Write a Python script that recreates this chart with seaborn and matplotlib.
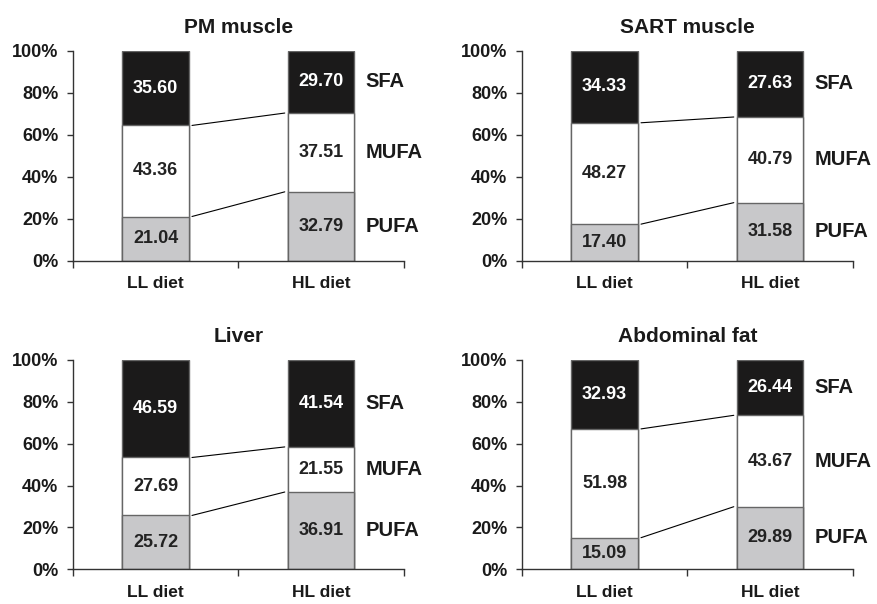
import numpy as np
import matplotlib
matplotlib.use("Agg")
import matplotlib.pyplot as plt
import seaborn as sns

# fatty acid shares (%) per tissue, order: LL diet, HL diet (printed values)
diets = ["LL diet", "HL diet"]
tissues = ["PM muscle", "SART muscle", "Liver", "Abdominal fat"]
sfa = {
    "PM muscle": [35.60, 29.70],
    "SART muscle": [34.33, 27.63],
    "Liver": [46.59, 41.54],
    "Abdominal fat": [32.93, 26.44],
}
mufa = {
    "PM muscle": [43.36, 37.51],
    "SART muscle": [48.27, 40.79],
    "Liver": [27.69, 21.55],
    "Abdominal fat": [51.98, 43.67],
}
pufa = {
    "PM muscle": [21.04, 32.79],
    "SART muscle": [17.40, 31.58],
    "Liver": [25.72, 36.91],
    "Abdominal fat": [15.09, 29.89],
}
# in the source figure the SART HL bar is drawn with PUFA/SFA heights swapped
pufa_drawn = dict(pufa, **{"SART muscle": [17.40, 27.63]})
sfa_drawn = dict(sfa, **{"SART muscle": [34.33, 31.58]})

fa_names = ["PUFA", "MUFA", "SFA"]
y_ticks = [0, 20, 40, 60, 80, 100]

sns.set_theme(style="ticks")
plt.rcParams["font.family"] = ["Liberation Sans", "DejaVu Sans"]
plt.rcParams["font.weight"] = "bold"

fig = plt.figure(figsize=(8.77, 6.04), dpi=100)

positions = {
    "PM muscle": [0.0829, 0.5684, 0.3778, 0.3477],
    "SART muscle": [0.5949, 0.5684, 0.3778, 0.3477],
    "Liver": [0.0829, 0.0575, 0.3778, 0.3465],
    "Abdominal fat": [0.5949, 0.0575, 0.3778, 0.3465],
}

bar_w = 0.4
fills = {"SFA": "#1b1a1a", "MUFA": "#ffffff", "PUFA": "#c8c8ca"}
edge = "#666666"

for t in tissues:
    ax = fig.add_axes(positions[t])
    p = np.array(pufa_drawn[t])
    m = np.array(mufa[t])
    s = np.array(sfa_drawn[t])
    low = p
    mid = p + m
    top = p + m + s

    # stacked bars drawn from the tallest layer down
    for heights, name in [(top, "SFA"), (mid, "MUFA"), (low, "PUFA")]:
        sns.barplot(x=diets, y=heights, color=fills[name], width=bar_w,
                    edgecolor=edge, linewidth=1.0, saturation=1, ax=ax)

    # value labels centred in each segment
    for i in range(2):
        segs = [(0, low[i], pufa[t][i], "#222222"),
                (low[i], mid[i], mufa[t][i], "#222222"),
                (mid[i], top[i], sfa[t][i], "white")]
        for b0, b1, v, col in segs:
            ax.text(i, (b0 + b1) / 2, f"{v:.2f}", ha="center", va="center",
                    fontsize=13, fontweight="bold", color=col)

    # connector lines between layer boundaries
    gap = 0.02
    for b in [low, mid]:
        ax.plot([bar_w / 2 + gap, 1 - bar_w / 2 - gap], [b[0], b[1]],
                color="black", linewidth=0.8)

    # fatty acid names beside the HL bar
    centers = [(0 + low[1]) / 2, (low[1] + mid[1]) / 2, (mid[1] + top[1]) / 2]
    for name, c in zip(fa_names, centers):
        ax.text(1 + bar_w / 2 + 0.066, c, name, ha="left", va="center",
                fontsize=14.5, fontweight="bold", color="#1a1a1a")

    ax.set_xlim(-0.5, 1.5)
    ax.set_ylim(0, 100)
    ax.set_yticks(y_ticks)
    ax.set_yticklabels([f"{v}%" for v in y_ticks])
    ax.set_xticks([-0.5, 0.5, 1.5])
    ax.set_xticklabels([])
    ax.set_xticks([0, 1], minor=True)
    ax.set_xticklabels(diets, minor=True)
    ax.tick_params(axis="x", which="major", length=5, width=1, color="#333333",
                   direction="out")
    ax.tick_params(axis="x", which="minor", length=0, pad=11, labelsize=12.5,
                   labelcolor="#1a1a1a")
    ax.tick_params(axis="y", length=4.3, width=1, color="#333333", pad=6,
                   labelsize=13, labelcolor="#1a1a1a")
    for lab in ax.get_xticklabels(minor=True) + ax.get_yticklabels():
        lab.set_fontweight("bold")
    ax.set_xlabel("")
    ax.set_ylabel("")
    ax.set_title(t, fontsize=15, fontweight="bold", pad=13, color="#1a1a1a")
    sns.despine(ax=ax)
    for sp in ["left", "bottom"]:
        ax.spines[sp].set_color("#333333")
        ax.spines[sp].set_linewidth(1.0)

fig.savefig("out.png", dpi=100)
